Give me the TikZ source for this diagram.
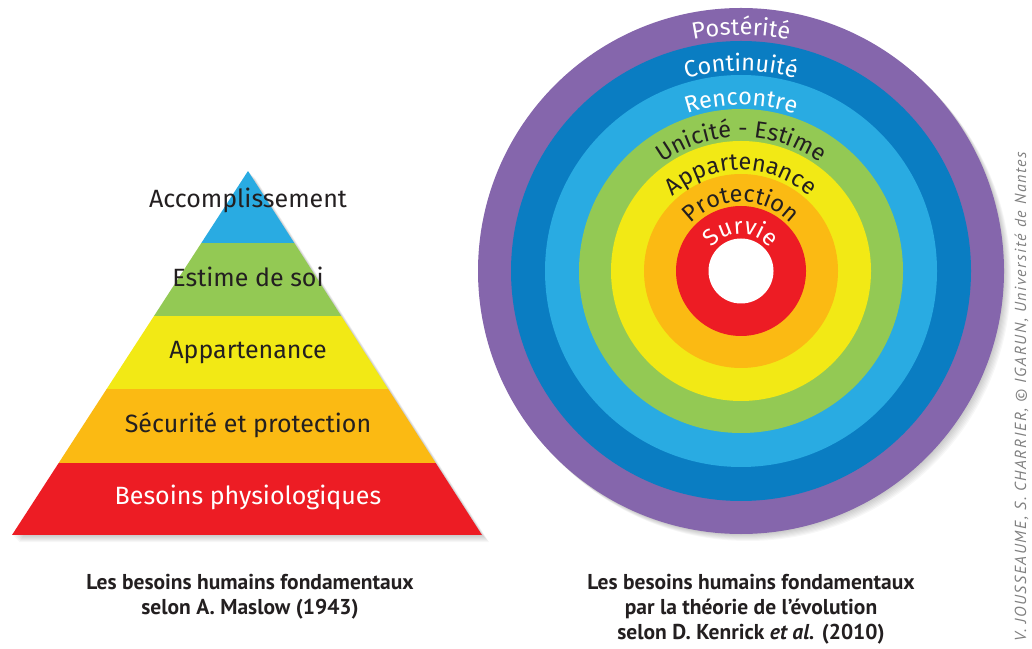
\documentclass[tikz,border=0pt]{standalone}
\usepackage{fontspec}
\setmainfont{Fira Sans}
\newfontfamily\capfont{PT Sans}
\newfontfamily\creditfont{PT Sans}[LetterSpace=10]
\usetikzlibrary{decorations.text}
\definecolor{violet}{HTML}{8566AC}
\definecolor{deepblue}{HTML}{0A7DC2}
\definecolor{sky}{HTML}{29ABE2}
\definecolor{leaf}{HTML}{93C954}
\definecolor{lemon}{HTML}{F2E915}
\definecolor{amber}{HTML}{FBBA13}
\definecolor{scarlet}{HTML}{ED1C24}
\definecolor{ink}{HTML}{231F20}
\newcommand\ringsize{\fontsize{23.5}{27}\selectfont}
\tikzset{
  pyrlabel/.style={anchor=base,inner sep=0pt,font=\fontsize{25}{29}\selectfont,text=ink},
  caption/.style={align=center,anchor=north,inner sep=0pt,
    font=\capfont\bfseries\fontsize{21.5}{25}\selectfont,text=ink},
  ringlabel/.style 2 args={decorate,decoration={text along path,text align=center,
    text={|\ringsize\color{#1}|#2}}},
}

\begin{document}
\begin{tikzpicture}[x=1pt,y=1pt]
  \path[use as bounding box] (0,0) rectangle (1032,648);

  % Maslow pyramid, soft shadow first.
  \foreach \s in {1,...,7}
    \fill[black,opacity=0.03] (248+\s,477-\s) -- (482+\s,113-\s) -- (12+\s,113-\s) -- cycle;
  \begin{scope}
    \clip (248,477) -- (482,113) -- (12,113) -- cycle;
    \foreach \lo/\hi/\col in {113/185/scarlet,185/259/amber,259/332/lemon,332/405/leaf,405/477/sky}
      \fill[\col] (0,\lo) rectangle (500,\hi);
  \end{scope}

  \node[pyrlabel] (accomp) at (248,440) {Accomplissement};
  \node[pyrlabel] (estime) at (248,361) {Estime de soi};
  \node[pyrlabel] (appart) at (248,289) {Appartenance};
  \node[pyrlabel] (secur) at (248,215) {Sécurité et protection};
  \node[pyrlabel,text=white] (physio) at (248,144) {Besoins physiologiques};

  % Kenrick rings.
  \coordinate (ctr) at (741,377);
  \foreach \s in {1,...,7}
    \fill[black,opacity=0.03] (741+\s,377-\s) circle[radius=263];
  \foreach \rr/\col in {263/violet,230/deepblue,196/sky,162/leaf,130/lemon,97/amber,65/scarlet}
    \fill[\col] (ctr) circle[radius=\rr];
  \fill[white] (ctr) circle[radius=32.5];

  \path[ringlabel={white}{Postérité}] (ctr) ++(180:236) arc[start angle=180,end angle=0,radius=236];
  \path[ringlabel={white}{Continuité}] (ctr) ++(180:200) arc[start angle=180,end angle=0,radius=200];
  \path[ringlabel={white}{Rencontre}] (ctr) ++(180:166) arc[start angle=180,end angle=0,radius=166];
  \path[ringlabel={ink}{Unicité - Estime}] (ctr) ++(180:134) arc[start angle=180,end angle=0,radius=134];
  \path[ringlabel={ink}{Appartenance}] (ctr) ++(180:101) arc[start angle=180,end angle=0,radius=101];
  \path[ringlabel={ink}{Protection}] (ctr) ++(180:69) arc[start angle=180,end angle=0,radius=69];
  \path[ringlabel={white}{Survie}] (ctr) ++(180:37) arc[start angle=180,end angle=0,radius=37];

  % Captions and credit.
  \node[caption] (capmaslow) at (250,74) {Les besoins humains fondamentaux\\selon A. Maslow (1943)};
  \node[caption] (capkenrick) at (751,74) {Les besoins humains fondamentaux\\par la théorie de l’évolution\\selon D. Kenrick \textit{et al.} (2010)};
  \node[rotate=90,anchor=base west,inner sep=0pt,text=black!50,
    font=\creditfont\itshape\fontsize{16}{19}\selectfont] (credit) at (1026,6)
    {V. JOUSSEAUME, S. CHARRIER, © IGARUN, Université de Nantes};
\end{tikzpicture}
\end{document}
